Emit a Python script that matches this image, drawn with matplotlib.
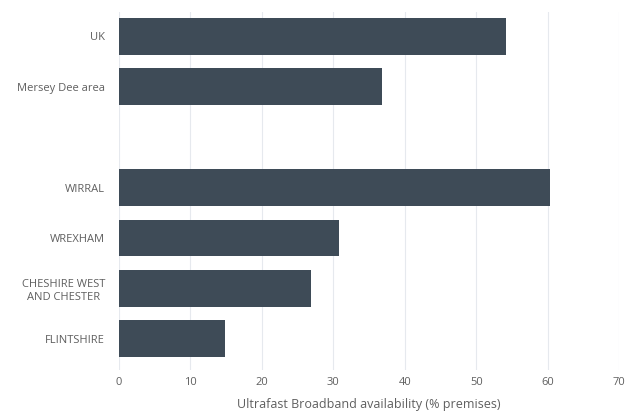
import matplotlib
matplotlib.use('Agg')
import matplotlib.pyplot as plt

plt.rcParams['font.family'] = ['Open Sans', 'DejaVu Sans']

# Ultrafast broadband availability, % of premises
labels = ['UK', 'Mersey Dee area', '', 'WIRRAL', 'WREXHAM',
          'CHESHIRE WEST\nAND CHESTER', 'FLINTSHIRE']
values = [54.1, 36.8, None, 60.3, 30.8, 26.8, 14.9]
xticks = [0, 10, 20, 30, 40, 50, 60, 70]

barColor = '#3e4b57'
textColor = '#5f5f5f'

fig = plt.figure(figsize=(6.28, 4.15), dpi=100)
ax = fig.add_axes([0.1895, 0.108, 0.7965, 0.863])

pos = []
vals = []
for i, v in enumerate(values):
  if v is None:
    continue
  pos.append(i)
  vals.append(v)

ax.barh(pos, vals, height=0.73, color=barColor, zorder=3)

ax.set_xlim(0, 70)
ax.set_ylim(6.62, -0.48)
ax.set_xticks(xticks)
ax.set_xticklabels([str(t) for t in xticks])
ax.set_yticks(range(len(labels)))
ax.set_yticklabels(labels)

ax.grid(axis='x', color='#e6e9ee', linewidth=0.8, zorder=0)
for s in ax.spines.values():
  s.set_visible(False)
ax.tick_params(axis='both', length=0, colors=textColor, labelsize=8)
ax.tick_params(axis='x', pad=5)
ax.tick_params(axis='y', pad=10)
for t in ax.get_yticklabels():
  t.set_horizontalalignment('right')
  t.set_multialignment('center')

ax.set_xlabel('Ultrafast Broadband availability (% premises)', color=textColor,
              fontsize=9, labelpad=7)

plt.savefig('out.png', dpi=100)
